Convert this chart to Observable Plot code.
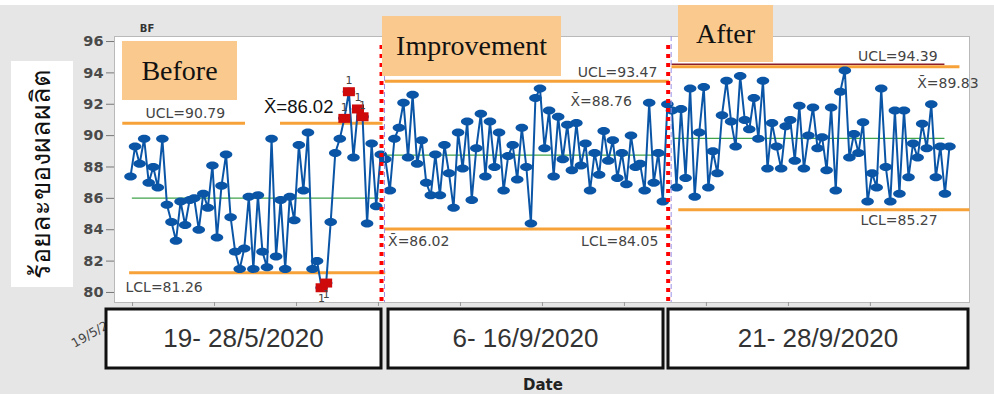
<!DOCTYPE html>
<html><head><meta charset="utf-8">
<script src="https://cdn.jsdelivr.net/npm/d3@7"></script>
<script src="https://cdn.jsdelivr.net/npm/@observablehq/plot@0.6"></script>
<style>
html,body{margin:0;padding:0;background:#e6e6e6;}
#chart{position:relative;width:994px;height:394px;overflow:hidden;}
</style></head><body><div id="chart"></div>
<script>
// ---- data ----
const phases = ["Before", "Improvement", "After"];
const periodLabels = ["19- 28/5/2020", "6- 16/9/2020", "21- 28/9/2020"];
const before = [87.4,89.3,88.2,89.8,87.0,88.0,86.7,89.8,85.6,84.5,83.3,85.8,84.3,85.9,86.0,84.0,86.3,85.4,88.1,83.5,86.8,88.8,84.8,82.6,81.5,82.8,86.1,81.5,86.2,82.6,81.6,89.8,82.3,85.9,81.5,86.1,84.6,89.4,86.5,90.2,81.5,82.0,80.3,80.6,84.5,88.9,89.8,91.1,92.8,88.6,91.7,91.2,84.4,89.5,85.5,88.8];
const improvement = [88.5,86.5,89.8,90.5,92.1,88.6,92.6,88.2,89.7,87.0,86.2,88.8,86.2,89.4,87.6,85.4,90.2,87.9,90.9,85.9,89.2,91.4,87.4,90.9,88.0,90.2,86.5,88.7,89.4,87.2,90.5,88.0,84.4,92.4,93.0,89.2,91.6,87.4,91.2,88.5,90.7,87.8,90.8,88.1,89.5,86.5,88.9,87.5,90.3,88.4,89.7,87.3,88.9,86.9,90.0,88.0,88.2,86.5,92.1,87.0,88.9,85.8,92.0];
const after = [91.6,86.7,91.7,87.3,93.0,86.1,90.2,93.1,86.7,89.0,87.6,91.3,93.5,90.9,89.3,93.8,91.0,90.4,92.4,89.8,93.5,87.9,90.8,89.3,87.9,90.6,91.0,88.4,91.9,87.9,90.0,91.8,89.2,89.9,87.8,91.8,86.5,92.8,94.15,88.6,90.1,88.9,90.85,85.8,87.6,86.7,93.0,88.0,85.8,91.6,86.3,91.6,87.35,89.5,88.6,90.75,89.2,92.0,87.35,89.3,86.3,89.3];
const ucl = [90.79, 93.47, 94.39];
const cl  = [86.02, 88.76, 89.83];
const lcl = [81.26, 84.05, 85.27];
const yTicks = [80, 82, 84, 86, 88, 90, 92, 94, 96];

// ---- build tables ----
const rows = []; const spans = []; let idx = 0;
[before, improvement, after].forEach((vals, p) => {
  const start = idx;
  vals.forEach(v => rows.push({i: idx++, v, phase: phases[p], p}));
  spans.push({phase: phases[p], start, end: idx - 1, p});
});
const badHigh = rows.filter(d => d.v > ucl[d.p]);
const badLow = rows.filter(d => d.v < lcl[d.p]);
const bad = badHigh.concat(badLow);
const boundaries = spans.slice(1).map(s => s.start - 0.5);
const limitRows = spans.map(s => ({
  ucl: ucl[s.p], cl: cl[s.p], lcl: lcl[s.p],
  x1: s.start - (s.p === 0 ? 1.7 : 0), x2: s.end + 0.5 + (s.p === 2 ? 1.8 : 0),
  c1: s.start + 0.4, c2: s.end - (s.p === 2 ? 1.0 : 0.3),
  l1: s.start - (s.p === 2 ? -1.5 : 0.2), l2: s.end + 0.5 + (s.p === 2 ? 4 : 0.6), p: s.p
}));
const fmt = d3.format(".2f");
const xbar = "X\u0304";
const labels = [
  {t: "UCL=" + fmt(ucl[0]), x: 3.3, y: ucl[0], dy: -10, a: "start"},
  {t: "LCL=" + fmt(lcl[0]), x: -1.1, y: lcl[0], dy: 15, a: "start"},
  {t: "UCL=" + fmt(ucl[1]), x: 115.8, y: ucl[1], dy: -9, a: "end"},
  {t: xbar + "=" + fmt(cl[1]), x: 96.7, y: ucl[1], dy: 20, a: "start"},
  {t: xbar + "=" + fmt(cl[0]), x: 56.6, y: lcl[1], dy: 13, a: "start"},
  {t: "LCL=" + fmt(lcl[1]), x: 116, y: lcl[1], dy: 13, a: "end"},
  {t: "UCL=" + fmt(ucl[2]), x: 177.4, y: ucl[2], dy: -10, a: "end"},
  {t: xbar + "=" + fmt(cl[2]), x: 186.4, y: ucl[2], dy: 17, a: "end"},
  {t: "LCL=" + fmt(lcl[2]), x: 177.4, y: lcl[2], dy: 11, a: "end"}
];

// custom symbols
function ellipse(rx, ry) {
  const k = 0.5523;
  return {draw(c) {
    c.moveTo(rx, 0);
    c.bezierCurveTo(rx, k*ry, k*rx, ry, 0, ry);
    c.bezierCurveTo(-k*rx, ry, -rx, k*ry, -rx, 0);
    c.bezierCurveTo(-rx, -k*ry, -k*rx, -ry, 0, -ry);
    c.bezierCurveTo(k*rx, -ry, rx, -k*ry, rx, 0);
    c.closePath();
  }};
}
const rectSym = {draw(c) { c.rect(-6, -4.5, 12, 9); }};

const blue = "#0a55a6", orange = "#f7a238", green = "#3fa34a";
const font = "'DejaVu Sans', 'Open Sans', sans-serif";

const plot = Plot.plot({
  width: 994, height: 394,
  marginLeft: 114, marginRight: 25, marginTop: 36, marginBottom: 92,
  style: {background: "transparent", fontFamily: font, overflow: "visible"},
  x: {domain: [-3.52, 184.4], axis: null},
  y: {domain: [79.36, 96.32], axis: null},
  marks: [
    Plot.frame({fill: "white", stroke: "#b9b9b9"}),
    Plot.axisY(yTicks, {tickSize: 8, tickPadding: 3, fontSize: 14.5, label: null, stroke: "#777"}),
    Plot.axisX(d3.range(0.44, 180, 18.02), {tickSize: 4, tickFormat: () => "", stroke: "#999", label: null}),
    Plot.ruleY(limitRows, {y: "cl", x1: "c1", x2: "c2", stroke: green, strokeWidth: 1.3}),
    Plot.ruleY(limitRows.filter(d => d.p === 2), {y: "ucl", x1: d => d.c1 - 0.4, x2: "c2", stroke: "#8b1e2a", strokeWidth: 1.6, dy: -2.5}),
    Plot.ruleY(limitRows, {y: "ucl", x1: "x1", x2: "x2", stroke: orange, strokeWidth: 3}),
    Plot.ruleY(limitRows, {y: "lcl", x1: "l1", x2: "l2", stroke: orange, strokeWidth: 3}),
    Plot.line(rows, {x: "i", y: "v", z: "phase", stroke: blue, strokeWidth: 2}),
    Plot.dot(rows, {x: "i", y: "v", symbol: ellipse(6.3, 4), fill: blue, stroke: "none", r: 4}),
    Plot.dot(bad, {x: "i", y: "v", symbol: rectSym, fill: "#cf0a0a", stroke: "none", r: 5}),
    Plot.text(badHigh, {x: "i", y: "v", text: () => "1", dy: -11, fontSize: 11, fill: "#444"}),
    Plot.text(badLow, {x: "i", y: "v", text: () => "1", dy: 11, fontSize: 11, fill: "#444"}),
    ...labels.map(l => Plot.text([l], {x: "x", y: "y", text: "t", dy: l.dy, textAnchor: l.a, fontSize: 14, fill: "#444", letterSpacing: 0.6})),
    Plot.ruleX(boundaries, {stroke: "#ff0000", strokeWidth: 4, strokeDasharray: "4,5", insetTop: 9, dx: -1.5}),
    Plot.ruleX(boundaries, {stroke: "#9d90e6", strokeWidth: 1, strokeDasharray: "5,3", dx: 1.5})
  ]
});
document.getElementById("chart").appendChild(plot);
const svg = d3.select(plot);
svg.selectAll("g[aria-label='y-axis tick label'] text").attr("fill", "#4a4a4a").style("font-weight", "600");

// ---- overlays ----
const g = svg.append("g").style("font-family", font);
svg.insert("rect", ":first-child").attr("x", 0).attr("y", 0).attr("width", 994).attr("height", 5).attr("fill", "white");

// x-bar label box (before)
g.append("rect").attr("x", 245).attr("y", 97).attr("width", 35).attr("height", 28).attr("fill", "white");
g.append("text").attr("x", 264).attr("y", 113).attr("text-anchor", "start").text(xbar + "=" + fmt(cl[0]))
  .attr("font-size", 18.5).attr("fill", "#111").attr("font-family", "'Liberation Sans', Arial, sans-serif");

// y title box
g.append("rect").attr("x", 11).attr("y", 61).attr("width", 62).attr("height", 226).attr("fill", "white");
g.append("text").attr("transform", "translate(50,174) rotate(-90)").attr("text-anchor", "middle")
  .attr("font-size", 27).attr("fill", "#111").text("ร้อยละของผลผลิต");

g.append("text").attr("x", 147).attr("y", 32).attr("text-anchor", "middle").attr("font-size", 10)
  .attr("font-weight", "bold").attr("fill", "#333").text("BF");

// rotated date tick label (partly hidden)
g.append("text").attr("transform", "translate(130,316) rotate(-30)").attr("text-anchor", "end")
  .attr("font-size", 12.5).attr("fill", "#444").text("19/5/2020");

// phase label boxes
const phaseBoxes = [
  {x: 122, y: 41, w: 115, h: 59, fs: 28},
  {x: 382, y: 16, w: 179, h: 60, fs: 28},
  {x: 678, y: 5, w: 95, h: 57, fs: 28}
];
phaseBoxes.forEach((b, k) => {
  g.append("rect").attr("x", b.x).attr("y", b.y).attr("width", b.w).attr("height", b.h).attr("fill", "#fac98e");
  g.append("text").attr("x", b.x + b.w / 2).attr("y", b.y + b.h / 2 + b.fs * 0.33).attr("text-anchor", "middle")
    .attr("font-family", "'Liberation Serif', 'Times New Roman', serif").attr("font-size", b.fs).attr("fill", "#111")
    .text(phases[k]);
});

// period boxes
const periodBoxes = [{x: 106, w: 275}, {x: 388, w: 275}, {x: 668, w: 300}];
periodBoxes.forEach((b, k) => {
  g.append("rect").attr("x", b.x).attr("y", 309).attr("width", b.w).attr("height", 59)
    .attr("fill", "white").attr("stroke", "#111").attr("stroke-width", 3);
  g.append("text").attr("x", b.x + b.w / 2).attr("y", 347).attr("text-anchor", "middle")
    .attr("font-family", "'Liberation Sans', Arial, sans-serif").attr("font-size", 26).attr("fill", "#333")
    .text(periodLabels[k]);
});

g.append("text").attr("x", 543).attr("y", 390).attr("text-anchor", "middle").attr("font-size", 15)
  .attr("font-weight", "bold").attr("fill", "#222").text("Date");
</script></body></html>
